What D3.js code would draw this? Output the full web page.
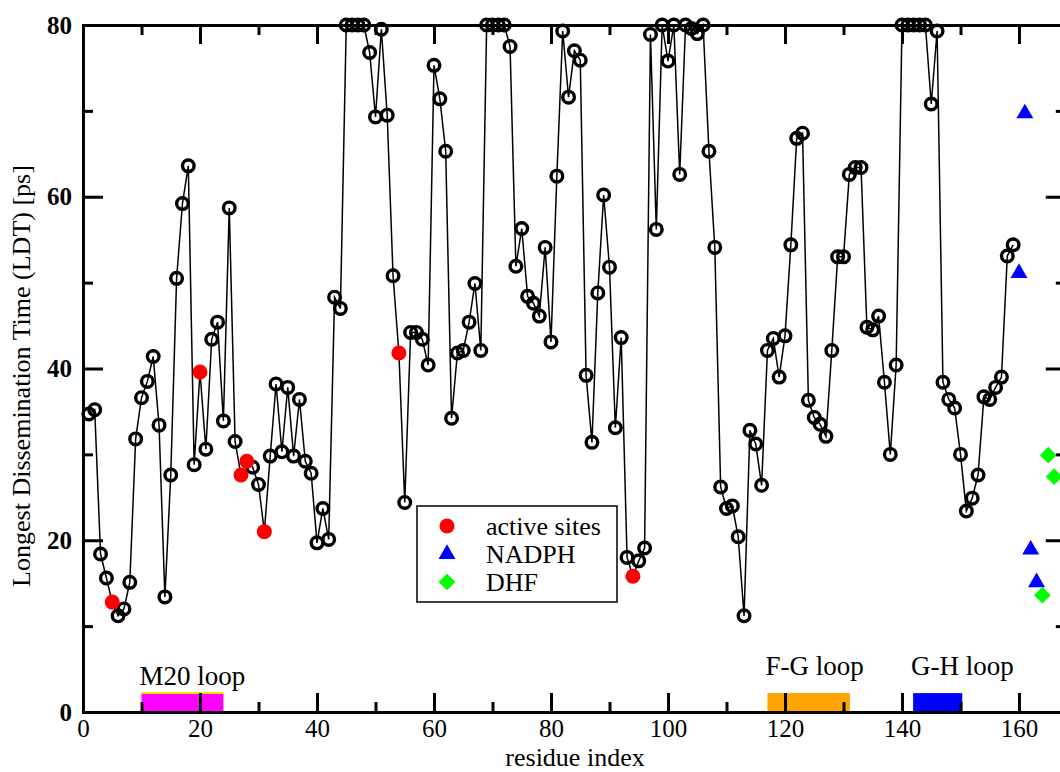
<!DOCTYPE html>
<html>
<head>
<meta charset="utf-8">
<script src="https://cdn.jsdelivr.net/npm/d3@7"></script>
<style>
  body { margin: 0; background: white; }
  svg { display: block; }
  svg text { font-family: "Liberation Serif", "DejaVu Serif", serif; fill: black; }
</style>
</head>
<body>
<svg width="1060" height="772"></svg>
<script>
// longest dissemination time per residue (residues 1..159)
let ldt = [
  34.7, 35.2, 18.4, 15.6, 12.8, 11.2, 12.0, 15.1, 31.8, 36.6,
  38.5, 41.4, 33.4, 13.4, 27.6, 50.5, 59.2, 63.6, 28.8, 39.6,
  30.6, 43.4, 45.4, 33.9, 58.7, 31.5, 27.6, 29.2, 28.5, 26.5,
  21.0, 29.8, 38.2, 30.3, 37.8, 29.8, 36.4, 29.2, 27.8, 19.7,
  23.7, 20.1, 48.3, 47.0, 80, 80, 80, 80, 76.8, 69.3,
  79.5, 69.5, 50.8, 41.8, 24.4, 44.2, 44.2, 43.4, 40.4, 75.3,
  71.4, 65.3, 34.2, 41.8, 42.1, 45.4, 49.9, 42.1, 80, 80,
  80, 80, 77.5, 51.9, 56.3, 48.4, 47.6, 46.1, 54.1, 43.1,
  62.4, 79.3, 71.6, 77.0, 75.9, 39.2, 31.4, 48.8, 60.2, 51.8,
  33.1, 43.6, 18.0, 15.8, 17.6, 19.1, 78.9, 56.2, 80, 75.8,
  80, 62.6, 80, 79.6, 79.0, 80, 65.3, 54.1, 26.2, 23.7,
  24.0, 20.4, 11.2, 32.8, 31.2, 26.4, 42.1, 43.5, 39.0, 43.8,
  54.4, 66.8, 67.4, 36.3, 34.3, 33.5, 32.1, 42.1, 53.0, 53.0,
  62.6, 63.4, 63.4, 44.8, 44.5, 46.1, 38.4, 30.0, 40.4, 80,
  80, 80, 80, 80, 70.8, 79.3, 38.4, 36.4, 35.4, 30.0,
  23.4, 24.9, 27.6, 36.7, 36.4, 37.8, 39.0, 53.1, 54.4
]
let residues = d3.range(1, ldt.length + 1)

let activeSites = [5, 20, 27, 28, 31, 54, 94]
let nadphX = [160, 161, 162, 163]
let nadphY = [51.1, 69.7, 18.9, 15.1]
let dhfX = [164, 165, 166]
let dhfY = [13.6, 29.9, 27.4]

let loopNames = ["M20 loop", "F-G loop", "G-H loop"]
let loopStart = [10, 117, 141.9]
let loopEnd = [24, 131.1, 150.3]
let loopColors = ["#ff00ff", "#ffa500", "#0000ff"]
let loopLabelY = [685, 675, 675]

let xMajor = [0, 20, 40, 60, 80, 100, 120, 140, 160]
let xMinor = [10, 30, 50, 70, 90, 110, 130, 150]
let yMajor = [0, 20, 40, 60, 80]
let yMinor = [10, 30, 50, 70]

let svg = d3.select("svg")

let x = d3.scaleLinear().domain([0, 168]).range([83, 1065.8])
let y = d3.scaleLinear().domain([0, 80]).range([712, 25])

let ldtOf = r => ldt[r - 1]

// loop bars
loopNames.forEach((name, i) => {
  svg.append("rect")
    .attr("x", x(loopStart[i]))
    .attr("y", y(2.2))
    .attr("width", x(loopEnd[i]) - x(loopStart[i]))
    .attr("height", y(0) - y(2.2))
    .style("fill", loopColors[i])
  if (i === 0) {
    svg.append("line")
      .attr("x1", x(loopStart[i])).attr("x2", x(loopEnd[i]))
      .attr("y1", y(2.2)).attr("y2", y(2.2))
      .style("stroke", "#ffe000")
      .style("stroke-width", 2)
  }
  svg.append("text")
    .attr("x", x(loopStart[i]) - 2)
    .attr("y", loopLabelY[i])
    .style("font-size", "27px")
    .text(name)
})

// axes, ticks pointing inward
let axisStyle = g => {
  g.select(".domain").style("stroke-width", 3)
  g.selectAll(".tick line").style("stroke-width", 3)
}

svg.append("g")
  .attr("transform", `translate(0,${y(0)})`)
  .call(d3.axisBottom(x).tickValues(xMajor).tickSize(-19).tickSizeOuter(0).tickPadding(7))
  .call(axisStyle)
  .call(g => g.selectAll("text").style("font-size", "25px"))
svg.append("g")
  .attr("transform", `translate(0,${y(0)})`)
  .call(d3.axisBottom(x).tickValues(xMinor).tickSize(-10).tickFormat(""))
  .call(axisStyle)
svg.append("g")
  .attr("transform", `translate(0,${y(80)})`)
  .call(d3.axisTop(x).tickValues(xMajor).tickSize(-19).tickSizeOuter(0).tickFormat(""))
  .call(axisStyle)
svg.append("g")
  .attr("transform", `translate(0,${y(80)})`)
  .call(d3.axisTop(x).tickValues(xMinor).tickSize(-10).tickFormat(""))
  .call(axisStyle)

svg.append("g")
  .attr("transform", `translate(${x(0)},0)`)
  .call(d3.axisLeft(y).tickValues(yMajor).tickSize(-20).tickSizeOuter(0).tickPadding(11))
  .call(axisStyle)
  .call(g => g.selectAll("text").style("font-size", "25px").style("font-weight", "bold"))
svg.append("g")
  .attr("transform", `translate(${x(0)},0)`)
  .call(d3.axisLeft(y).tickValues(yMinor).tickSize(-10).tickFormat(""))
  .call(axisStyle)
svg.append("g")
  .attr("transform", `translate(${x(168)},0)`)
  .call(d3.axisRight(y).tickValues(yMajor).tickSize(-20).tickSizeOuter(0).tickFormat(""))
  .call(axisStyle)
svg.append("g")
  .attr("transform", `translate(${x(168)},0)`)
  .call(d3.axisRight(y).tickValues(yMinor).tickSize(-10).tickFormat(""))
  .call(axisStyle)

// axis titles
svg.append("text")
  .attr("x", 575)
  .attr("y", 766)
  .attr("text-anchor", "middle")
  .style("font-size", "26px")
  .text("residue index")

svg.append("text")
  .attr("transform", "translate(30,376) rotate(-90)")
  .attr("text-anchor", "middle")
  .style("font-size", "26px")
  .text("Longest Dissemination Time (LDT) [ps]")

// LDT line and open circles
let line = d3.line()
  .x(r => x(r))
  .y(r => y(ldtOf(r)))

svg.append("path")
  .datum(residues)
  .attr("d", line)
  .style("fill", "none")
  .style("stroke", "black")
  .style("stroke-width", 1.5)

svg.selectAll(".pt")
  .data(residues.filter(r => !activeSites.includes(r)))
  .enter()
  .append("circle")
  .attr("cx", r => x(r))
  .attr("cy", r => y(ldtOf(r)))
  .attr("r", 5.8)
  .style("fill", "none")
  .style("stroke", "black")
  .style("stroke-width", 3.4)

// active sites
svg.selectAll(".act")
  .data(activeSites)
  .enter()
  .append("circle")
  .attr("cx", r => x(r))
  .attr("cy", r => y(ldtOf(r)))
  .attr("r", 7.5)
  .style("fill", "red")

let tri = d3.symbol().type(d3.symbolTriangle).size(125)
let dia = d3.symbol().type(d3.symbolSquare).size(140)

svg.selectAll(".nadph")
  .data(nadphX)
  .enter()
  .append("path")
  .attr("d", tri)
  .attr("transform", (d, i) => `translate(${x(d)},${y(nadphY[i])})`)
  .style("fill", "blue")

svg.selectAll(".dhf")
  .data(dhfX)
  .enter()
  .append("path")
  .attr("d", dia)
  .attr("transform", (d, i) => `translate(${x(d)},${y(dhfY[i])}) rotate(45)`)
  .style("fill", "#00ff00")

// legend
let legend = svg.append("g")
legend.append("rect")
  .attr("x", 417).attr("y", 506)
  .attr("width", 200).attr("height", 96)
  .style("fill", "white")
  .style("stroke", "black")
  .style("stroke-width", 1.5)

legend.append("circle")
  .attr("cx", 447).attr("cy", 526).attr("r", 7.5)
  .style("fill", "red")
legend.append("path")
  .attr("d", tri)
  .attr("transform", "translate(447,554)")
  .style("fill", "blue")
legend.append("path")
  .attr("d", dia)
  .attr("transform", "translate(447,582) rotate(45)")
  .style("fill", "#00ff00")

let legendText = ["active sites", "NADPH", "DHF"]
legendText.forEach((t, i) => {
  legend.append("text")
    .attr("x", 486)
    .attr("y", 535 + 28 * i)
    .style("font-size", "26px")
    .text(t)
})
</script>
</body>
</html>
